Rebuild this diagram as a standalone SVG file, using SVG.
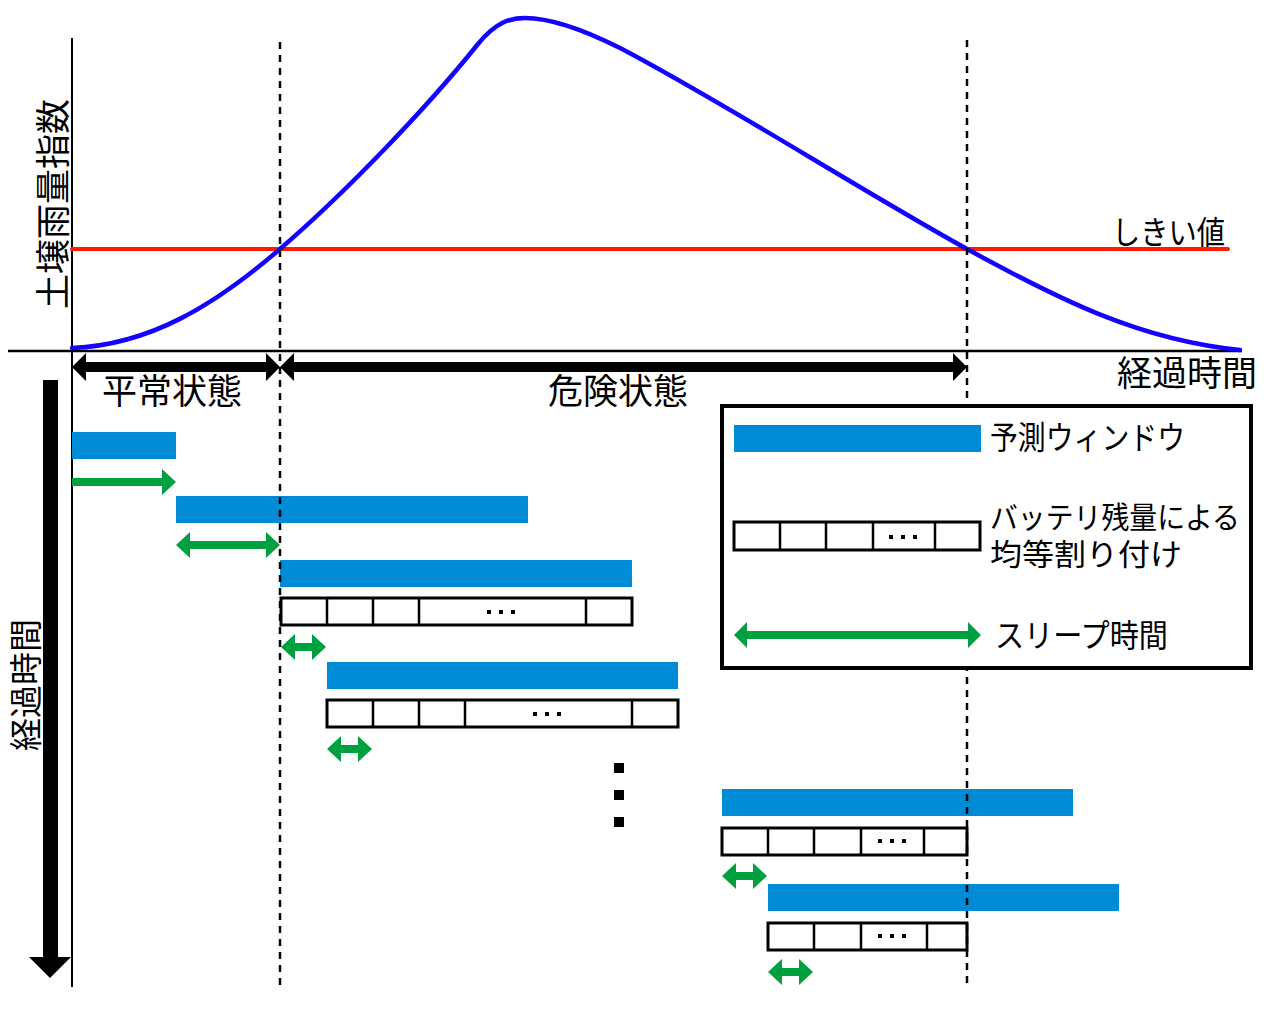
<svg xmlns="http://www.w3.org/2000/svg" width="1280" height="1024" viewBox="0 0 1280 1024">
<style>
.t{font-family:"Noto Sans CJK JP","Noto Sans",sans-serif;fill:#000}
.win{fill:#008bd7}
.sleep{fill:#00a040}
.bat{fill:#fff;stroke:#000;stroke-width:3}
.div{stroke:#000;stroke-width:2.5}
.dash{stroke:#000;stroke-width:2.5;stroke-dasharray:7 6;fill:none}
.dot{fill:#000}
.blk{fill:#000}
</style>
<rect width="1280" height="1024" fill="#fff"/>

<g id="axes">
  <line x1="72" y1="38" x2="72" y2="987" stroke="#000" stroke-width="2"/>
  <line x1="8" y1="351" x2="1242" y2="351" stroke="#000" stroke-width="2.5"/>
  <text class="t" font-size="35" transform="translate(66,204) rotate(-90)" text-anchor="middle">土壌雨量指数</text>
  <text class="t" font-size="35" x="1117" y="386">経過時間</text>
</g>

<g id="threshold">
  <line x1="72" y1="249" x2="1228" y2="249" stroke="#ff1a00" stroke-width="4" stroke-linecap="round"/>
  <text class="t" font-size="32" x="1112" y="244" textLength="113" lengthAdjust="spacingAndGlyphs">しきい値</text>
</g>

<g id="curve">
  <path d="M72,348 C150,345 215,305 280,249 C345,193 425,110 478,44 C496,22 510,18 525,18 C550,18 580,28 620,48 C720,100 860,190 967,249 C1060,300 1140,340 1240,350" fill="none" stroke="#1400ff" stroke-width="4.5" stroke-linecap="round"/>
</g>

<g id="windows">
  <rect class="win" x="72" y="432" width="104" height="27"/>
  <rect class="win" x="176" y="496" width="352" height="27"/>
  <rect class="win" x="280" y="560" width="352" height="27"/>
  <rect class="win" x="327" y="662" width="351" height="27"/>
  <rect class="win" x="722" y="789" width="351" height="27"/>
  <rect class="win" x="768" y="884" width="351" height="27"/>
</g>

<g id="batteries">
  <rect class="bat" x="281" y="598" width="351" height="27"/>
  <path class="div" d="M327,598V625M373,598V625M419,598V625M586,598V625"/>
  <rect class="dot" x="487" y="610" width="4" height="4"/><rect class="dot" x="499" y="610" width="4" height="4"/><rect class="dot" x="511" y="610" width="4" height="4"/>

  <rect class="bat" x="327" y="700" width="351" height="27"/>
  <path class="div" d="M373,700V727M419,700V727M465,700V727M632,700V727"/>
  <rect class="dot" x="533" y="712" width="4" height="4"/><rect class="dot" x="545" y="712" width="4" height="4"/><rect class="dot" x="557" y="712" width="4" height="4"/>

  <rect class="bat" x="722" y="828" width="245" height="27"/>
  <path class="div" d="M768,828V855M814,828V855M861,828V855M924,828V855"/>
  <rect class="dot" x="878" y="839" width="4" height="4"/><rect class="dot" x="890" y="839" width="4" height="4"/><rect class="dot" x="902" y="839" width="4" height="4"/>

  <rect class="bat" x="768" y="923" width="199" height="27"/>
  <path class="div" d="M814,923V950M861,923V950M927,923V950"/>
  <rect class="dot" x="878" y="934" width="4" height="4"/><rect class="dot" x="890" y="934" width="4" height="4"/><rect class="dot" x="902" y="934" width="4" height="4"/>
</g>

<g id="sleeps">
  <path class="sleep" d="M72,478 L162,478 L162,469 L176,482 L162,495 L162,486 L72,486 Z"/>
  <path class="sleep" d="M176,545 L190,532 L190,541 L266,541 L266,532 L280,545 L266,558 L266,549 L190,549 L190,558 Z"/>
  <path class="sleep" d="M281,647 L295,634 L295,643 L312,643 L312,634 L326,647 L312,660 L312,651 L295,651 L295,660 Z"/>
  <path class="sleep" d="M327,749 L341,736 L341,745 L358,745 L358,736 L372,749 L358,762 L358,753 L341,753 L341,762 Z"/>
  <path class="sleep" d="M722,876 L736,863 L736,872 L753,872 L753,863 L767,876 L753,889 L753,880 L736,880 L736,889 Z"/>
  <path class="sleep" d="M768,972 L782,959 L782,968 L799,968 L799,959 L813,972 L799,985 L799,976 L782,976 L782,985 Z"/>
</g>

<g id="continue-dots">
  <rect class="dot" x="614" y="763" width="10" height="10"/>
  <rect class="dot" x="614" y="790" width="10" height="10"/>
  <rect class="dot" x="614" y="817" width="10" height="10"/>
</g>

<g id="phase-arrows">
  <path class="blk" d="M72,367 L86,353 L86,362 L266,362 L266,353 L280,367 L266,381 L266,372 L86,372 L86,381 Z"/>
  <path class="blk" d="M280,367 L294,353 L294,362 L953,362 L953,353 L967,367 L953,381 L953,372 L294,372 L294,381 Z"/>
  <text class="t" font-size="35" x="102" y="404">平常状態</text>
  <text class="t" font-size="35" x="548" y="404">危険状態</text>
</g>

<g id="time-arrow">
  <path class="blk" d="M43,380 L58,380 L58,957 L71,957 L50,978 L29,957 L43,957 Z"/>
  <text class="t" font-size="33" transform="translate(38,685) rotate(-90)" text-anchor="middle">経過時間</text>
</g>

<g id="dashed">
  <line class="dash" x1="280" y1="42" x2="280" y2="987"/>
  <line class="dash" x1="967" y1="40" x2="967" y2="987"/>
</g>

<g id="legend">
  <rect x="722" y="406" width="529" height="262" fill="#fff" stroke="#000" stroke-width="4"/>
  <rect class="win" x="734" y="425" width="247" height="27"/>
  <text class="t" font-size="32" x="990" y="449" textLength="195" lengthAdjust="spacingAndGlyphs">予測ウィンドウ</text>
  <rect class="bat" x="734" y="522" width="246" height="28"/>
  <path class="div" d="M780,522V550M826,522V550M873,522V550M935,522V550"/>
  <rect class="dot" x="889" y="535" width="4" height="4"/><rect class="dot" x="901" y="535" width="4" height="4"/><rect class="dot" x="913" y="535" width="4" height="4"/>
  <text class="t" font-size="30"><tspan x="990" y="528" textLength="250" lengthAdjust="spacingAndGlyphs">バッテリ残量による</tspan><tspan x="990" y="565" textLength="192" lengthAdjust="spacingAndGlyphs">均等割り付け</tspan></text>
  <path class="sleep" d="M734,635 L747,622 L747,631 L968,631 L968,622 L981,635 L968,648 L968,639 L747,639 L747,648 Z"/>
  <text class="t" font-size="32" x="995" y="647" textLength="173" lengthAdjust="spacingAndGlyphs">スリープ時間</text>
</g>
</svg>
